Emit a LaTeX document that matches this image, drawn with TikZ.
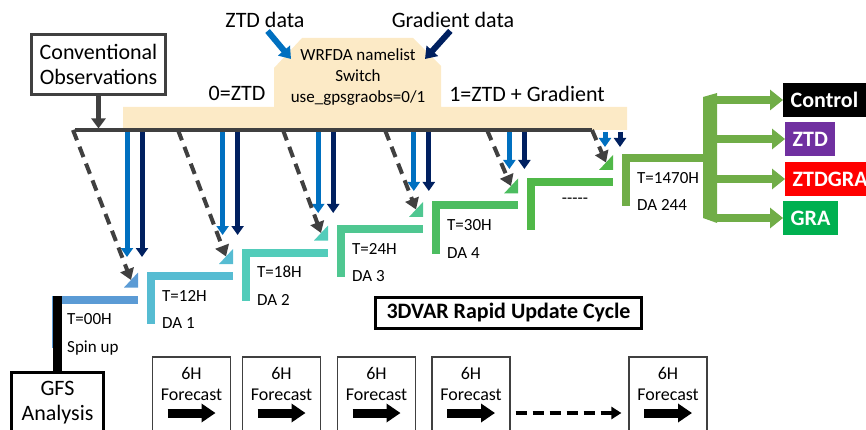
\documentclass[tikz,border=0pt]{standalone}
\usepackage{fontspec}
\setmainfont{Carlito}
\usetikzlibrary{arrows.meta,positioning}
\definecolor{darkline}{RGB}{64,64,64}
\definecolor{ztdblue}{RGB}{0,112,192}
\definecolor{gradnavy}{RGB}{0,32,96}
\definecolor{switchtan}{RGB}{252,234,198}
\definecolor{resgreen}{RGB}{112,173,71}
\definecolor{ztdpurple}{RGB}{112,48,160}
\definecolor{gragreen}{RGB}{0,176,80}
\definecolor{cycA}{RGB}{91,155,213}
\definecolor{cycB}{RGB}{86,188,210}
\definecolor{cycC}{RGB}{82,204,186}
\definecolor{cycD}{RGB}{79,199,145}
\definecolor{cycE}{RGB}{76,189,96}
\definecolor{cycF}{RGB}{80,184,72}

\begin{document}
\begin{tikzpicture}
[x=1pt,y=-1pt,
  boxdecorate/.style={draw=darkline,line width=3pt,align=center,inner sep=0pt,
    font=\fontsize{22}{25}\selectfont},
  labeldecorate/.style={inner sep=0pt,font=\fontsize{22}{25}\selectfont},
  smalldecorate/.style={inner sep=0pt,anchor=base west,font=\fontsize{17}{20}\selectfont},
  outdecorate/.style={anchor=west,minimum height=34pt,inner xsep=7.5pt,inner ysep=0pt,
    text=white,font=\fontsize{22}{25}\selectfont\bfseries},
  fcdecorate/.style={draw=darkline,line width=1.2pt,minimum width=78pt,minimum height=112pt},
  dashdecorate/.style={darkline,line width=4pt,dash pattern=on 11pt off 7pt,
    -{Triangle[width=14pt,length=11pt]}},
  obsdecorate/.style={line width=5pt,-{Triangle[width=12pt,length=9pt]}},
  greendecorate/.style={resgreen,line width=8pt,-{Triangle[width=20pt,length=13pt]}},
  blockdecorate/.style={black,line width=9pt,-{Triangle[width=18pt,length=14pt]}}]
\useasboundingbox (0,0) rectangle (866,430);

%% switch panel
\fill[switchtan] (123,107) -- (274,107) -- (274,68) -- (302,38) -- (413,38)
  -- (441,66) -- (441,107) -- (627,107) -- (627,130) -- (123,130) -- cycle;
\node (switch) at (358,77.5) [align=center,inner sep=0pt,
  font=\fontsize{17}{21}\selectfont] {WRFDA namelist\\Switch\\use\_gpsgraobs=0/1};
\node (zero) at (237,93.5) [labeldecorate] {0=ZTD};
\node (one) at (527,93.5) [labeldecorate] {1=ZTD + Gradient};
\node (ztddata) at (265,20) [labeldecorate] {ZTD data};
\node (graddata) at (453,20) [labeldecorate] {Gradient data};
\coordinate (ztdin) at (291,59);
\coordinate (gradin) at (425,59);
\draw[obsdecorate,ztdblue,line width=6pt,-{Triangle[width=15pt,length=11pt]},
  shorten <=4pt] (ztddata.south) -- (ztdin);
\draw[obsdecorate,gradnavy,line width=6pt,-{Triangle[width=15pt,length=11pt]},
  shorten <=4pt] (graddata.south) -- (gradin);

%% observations
\node (conv) at (98.5,64.5) [boxdecorate,fill=white,minimum width=134pt,
  minimum height=60pt] {Conventional\\Observations};
\coordinate (convin) at (98.5,128.5);
\draw[obsdecorate,darkline,-{Triangle[width=14pt,length=10pt]}] (conv.south) -- (convin);

%% ztd and gradient arrows
\foreach \k in {0,...,5} {
  \coordinate (ztdtop\k) at ({127+95.6*\k},132);
  \coordinate (ztdend\k) at ({127+95.6*\k},{257-22*\k});
  \coordinate (gradtop\k) at ({142+95.6*\k},132);
  \coordinate (gradend\k) at ({142+95.6*\k},{257-22*\k});
}
\path
\foreach \k in {0,...,5} {
  (ztdtop\k) edge[obsdecorate,ztdblue] (ztdend\k)
  (gradtop\k) edge[obsdecorate,gradnavy] (gradend\k)
};

%% time line
\coordinate (lineL) at (75,130);
\coordinate (lineR) at (592,130);
\draw[darkline,line width=4pt] (lineL) -- (lineR);

%% cycle steps
\foreach \i/\col/\len in {0/cycA/86, 1/cycB/86, 2/cycC/86, 3/cycD/86,
  4/cycE/86, 5/cycF/86, 6/resgreen/83} {
  \fill[\col] ({52+95*\i},{295.5-23.5*\i}) rectangle +(\len,8);
  \fill[\col] ({52+95*\i},{295.5-23.5*\i}) rectangle +(8,52);
}
\foreach \i/\col in {0/cycA, 1/cycB, 2/cycC, 3/cycD, 4/cycE, 5/cycF} {
  \fill[\col] ({124+95*\i},{287.5-23.5*\i}) -- ++(14,0) -- ++(0,-15) -- cycle;
}
\foreach \i/\tl/\dl in {0/T=00H/Spin up, 1/T=12H/DA 1, 2/T=18H/DA 2,
  3/T=24H/DA 3, 4/T=30H/DA 4, 6/T=1470H/DA 244} {
  \node (tlab\i) at ({67+95*\i},{324.5-23.5*\i}) [smalldecorate] {\tl};
  \node (dlab\i) at ({67+95*\i},{352-23.5*\i}) [smalldecorate] {\dl};
}
\node (dots) at (575,201) [inner sep=0pt,font=\fontsize{17}{20}\selectfont] {-{}-{}-{}-{}-};

%% dashed links
\foreach \i/\sx in {0/73, 1/178, 2/283, 3/385, 4/487, 5/592} {
  \coordinate (obs\i) at (\sx,130);
  \coordinate (tri\i) at ({131+95*\i},{280-23.5*\i});
}
\path
\foreach \i in {0,...,5} {
  (obs\i) edge[dashdecorate] (tri\i)
};

%% gfs analysis
\node (gfs) at (57.5,403) [boxdecorate,draw=black,minimum width=92pt,
  minimum height=61pt] {GFS\\Analysis};
\coordinate (spin) at (57.5,295.5);
\draw[black,line width=9pt] (gfs.north) -- (spin);

%% experiments
\fill[resgreen] (703,97) -- (717,93) -- (717,223) -- (703,218) -- cycle;
\coordinate (brk) at (717,158);
\node (control) at (783,100) [outdecorate,fill=black] {Control};
\node (ztd) at (785,139) [outdecorate,fill=ztdpurple] {ZTD};
\node (ztdgra) at (785,179) [outdecorate,fill=red] {ZTDGRA};
\node (gra) at (783,218) [outdecorate,fill=gragreen] {GRA};
\path
\foreach \o in {control,ztd,ztdgra,gra} {
  (brk |- \o.west) edge[greendecorate] (\o.west)
};

%% rapid update cycle
\node (rapid) at (508.5,313) [boxdecorate,draw=black,minimum width=266pt,
  minimum height=31pt,font=\fontsize{22}{25}\selectfont\bfseries] {3DVAR Rapid Update Cycle};

%% forecasts
\foreach \j/\x in {1/191.5, 2/281.5, 3/376.5, 4/471, 5/668} {
  \node (fc\j) at (\x,413) [fcdecorate] {};
  \node (fctext\j) at (\x,384) [align=center,inner sep=0pt,
    font=\fontsize{18}{21.5}\selectfont] {6H\\Forecast};
  \draw[blockdecorate] ([xshift=-24pt]fc\j.center) -- ([xshift=24pt]fc\j.center);
}
\draw[black,line width=4.5pt,dash pattern=on 11pt off 6pt,
  -{Triangle[width=12pt,length=10pt]},shorten <=5pt,shorten >=7pt] (fc4.east) -- (fc5.west);
\end{tikzpicture}
\end{document}
